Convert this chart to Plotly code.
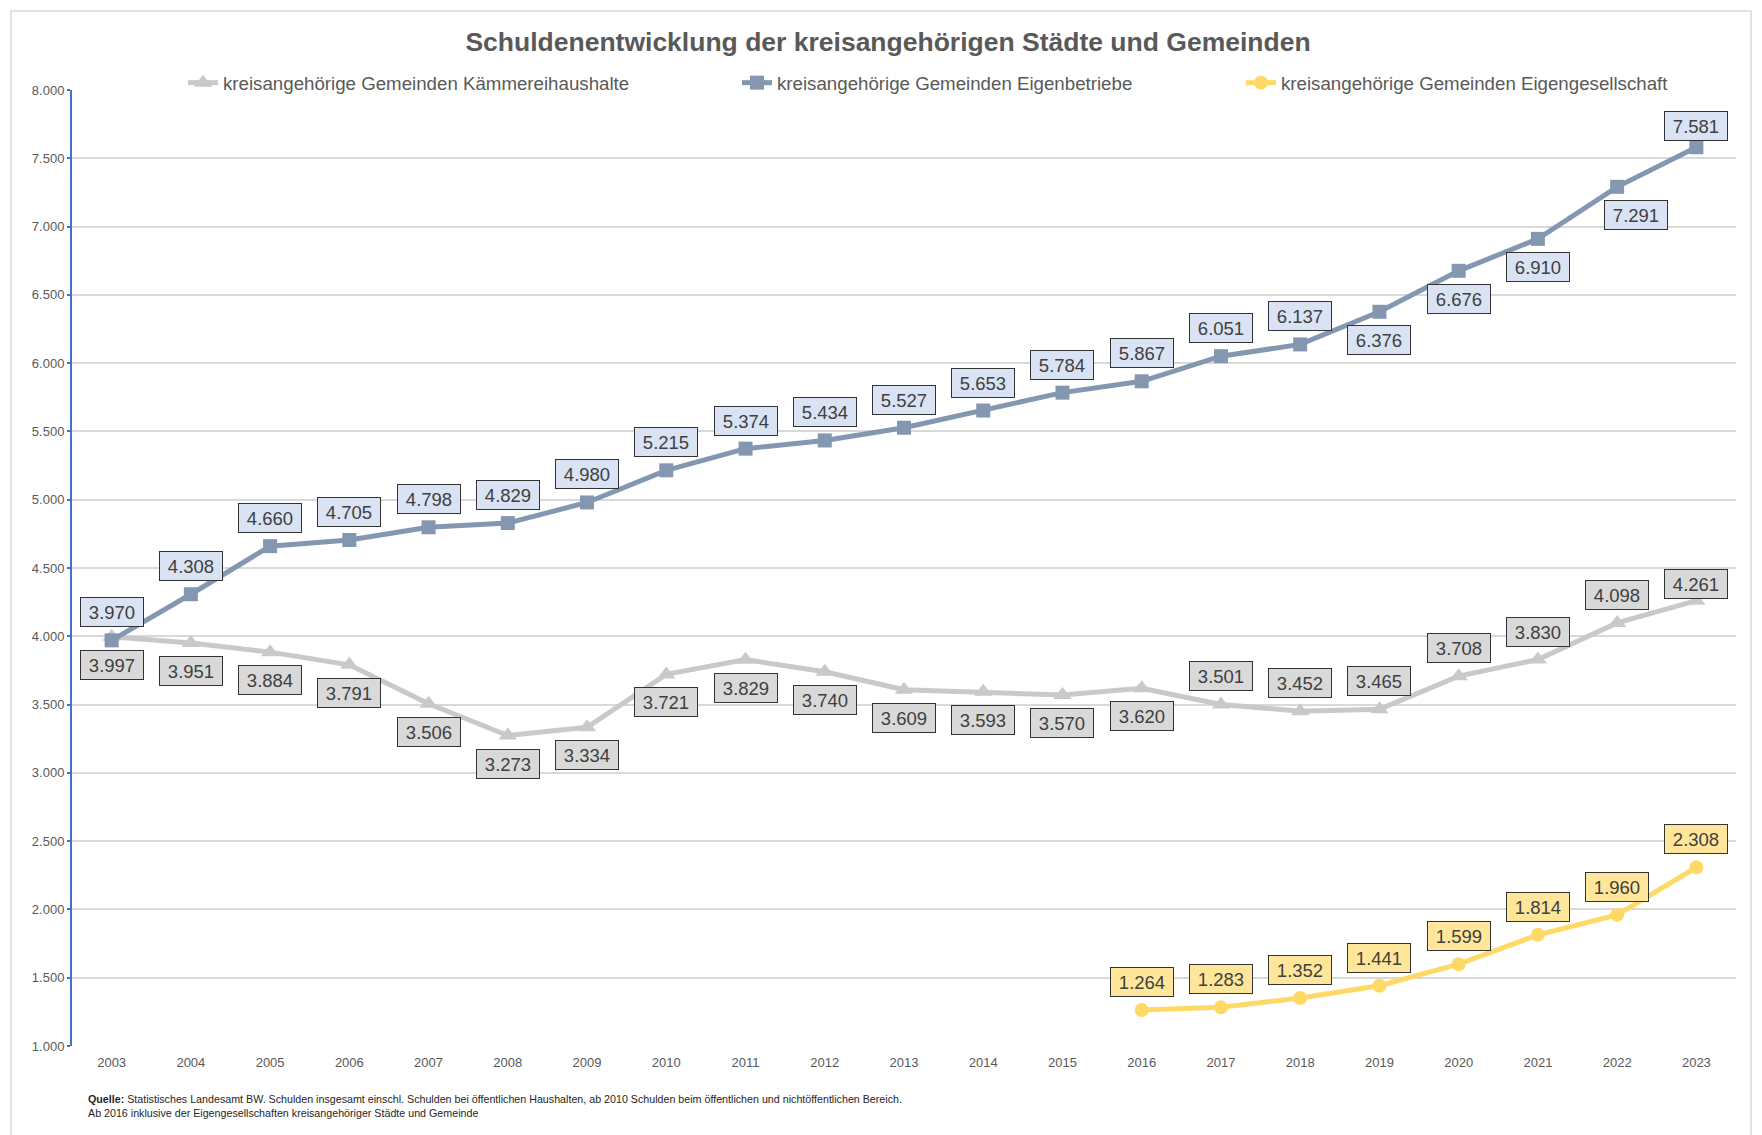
import plotly.graph_objects as go

# ---------------- data ----------------
years = [str(y) for y in range(2003, 2024)]
kaemmerei = [3997, 3951, 3884, 3791, 3506, 3273, 3334, 3721, 3829, 3740, 3609,
             3593, 3570, 3620, 3501, 3452, 3465, 3708, 3830, 4098, 4261]
eigenbetriebe = [3970, 4308, 4660, 4705, 4798, 4829, 4980, 5215, 5374, 5434, 5527,
                 5653, 5784, 5867, 6051, 6137, 6376, 6676, 6910, 7291, 7581]
years_eg = [str(y) for y in range(2016, 2024)]
eigengesellschaft = [1264, 1283, 1352, 1441, 1599, 1814, 1960, 2308]

y_ticks = list(range(1000, 8001, 500))

names = ["kreisangehörige Gemeinden Kämmereihaushalte",
         "kreisangehörige Gemeinden Eigenbetriebe",
         "kreisangehörige Gemeinden Eigengesellschaft"]

# ---------------- label placement (style) ----------------
# +1 = label above point, -1 = label below
pos_kaem = [-1] * 14 + [1] * 7
pos_eigb = [1] * 16 + [-1] * 4 + [1]
pos_eigg = [1] * 8
OFF = 28
shift_over = {("b", 20): (0, 21), ("g", 20): (0, 17), ("b", 19): (19, None)}

def de(v):
    return f"{v:,}".replace(",", ".")

C_GREY = "#C9C9C9"
C_BLUE = "#8497B0"
C_YEL = "#FFD966"
TXT = "#595959"
FONT = "Liberation Sans, Arial"

fig = go.Figure()
fig.add_trace(go.Scatter(x=years, y=kaemmerei, name=names[0], mode="lines+markers",
                         line=dict(color=C_GREY, width=5),
                         marker=dict(symbol="triangle-up", size=16, color=C_GREY),
                         legend="legend"))
fig.add_trace(go.Scatter(x=years, y=eigenbetriebe, name=names[1], mode="lines+markers",
                         line=dict(color=C_BLUE, width=5),
                         marker=dict(symbol="square", size=14, color=C_BLUE),
                         legend="legend2"))
fig.add_trace(go.Scatter(x=years_eg, y=eigengesellschaft, name=names[2], mode="lines+markers",
                         line=dict(color=C_YEL, width=5),
                         marker=dict(symbol="circle", size=14, color=C_YEL),
                         legend="legend3"))

annos = []
def add_labels(xs, ys, poss, fill, key):
    for i, (x, y, p) in enumerate(zip(xs, ys, poss)):
        xs_, ys_ = 0, p * OFF
        if (key, i) in shift_over:
            ox, oy = shift_over[(key, i)]
            xs_ = ox
            if oy is not None:
                ys_ = p * oy
        annos.append(dict(x=years.index(x), y=y, xref="x", yref="y", text=de(y), showarrow=False,
                          xshift=xs_, yshift=ys_, bgcolor=fill, bordercolor="#333333",
                          borderwidth=1, borderpad=1, width=60, height=26,
                          font=dict(family=FONT, size=18.5, color="#404040")))

add_labels(years, kaemmerei, pos_kaem, "#D9D9D9", "g")
add_labels(years, eigenbetriebe, pos_eigb, "#DAE3F3", "b")
add_labels(years_eg, eigengesellschaft, pos_eigg, "#FFE699", "y")

annos.append(dict(x=0.0084, y=-0.047, xref="paper", yref="paper", xanchor="left", yanchor="top",
                  align="left", showarrow=False,
                  text="<b>Quelle:</b> Statistisches Landesamt BW. Schulden insgesamt einschl. Schulden bei öffentlichen Haushalten, ab 2010 Schulden beim öffentlichen und nichtöffentlichen Bereich.<br>Ab 2016 inklusive der Eigengesellschaften kreisangehöriger Städte und Gemeinde",
                  font=dict(family=FONT, size=10.7, color="#262626")))

W, H = 1762, 1135
L, R, T, B = 72, 26, 90, 89
pw, ph = W - L - R, H - T - B

def px2paper_x(px):
    return (px - L) / pw

def px2paper_y(py):
    return (H - B - py) / ph

legend_common = dict(orientation="h", yanchor="middle", xanchor="left",
                     font=dict(family=FONT, size=18.7, color=TXT),
                     bgcolor="rgba(0,0,0,0)", borderwidth=0, itemwidth=30)

fig.update_layout(
    width=W, height=H,
    margin=dict(l=L, r=R, t=T, b=B),
    paper_bgcolor="white", plot_bgcolor="white",
    showlegend=True,
    title=dict(text="<b>Schuldenentwicklung der kreisangehörigen Städte und Gemeinden</b>",
               x=888 / W, xanchor="center", y=1 - 42 / H, yanchor="middle",
               font=dict(family=FONT, size=26.5, color=TXT)),
    legend=dict(x=px2paper_x(183), y=px2paper_y(83), **legend_common),
    legend2=dict(x=px2paper_x(737), y=px2paper_y(83), **legend_common),
    legend3=dict(x=px2paper_x(1241), y=px2paper_y(83), **legend_common),
    xaxis=dict(type="category", categoryorder="array", categoryarray=years,
               range=[-0.5, len(years) - 0.5], showgrid=False, showline=False,
               ticks="", zeroline=False, ticklabelstandoff=7,
               tickfont=dict(family=FONT, size=13, color=TXT)),
    yaxis=dict(range=[1000, 8000], tickvals=y_ticks, ticktext=[de(v) for v in y_ticks],
               showgrid=True, gridcolor="#D9D9D9", gridwidth=1.5,
               showline=True, linecolor="#4472C4", linewidth=2,
               ticks="outside", ticklen=3, tickcolor="#4472C4", tickwidth=1.5,
               zeroline=False,
               tickfont=dict(family=FONT, size=13, color=TXT)),
    annotations=annos,
    shapes=[dict(type="rect", xref="paper", yref="paper",
                 x0=px2paper_x(11), x1=px2paper_x(1751),
                 y0=px2paper_y(1145), y1=px2paper_y(11),
                 line=dict(color="#D9D9D9", width=1.5), layer="below")],
)

fig.write_html("out.html", config={"displayModeBar": False},
               post_script="document.body.style.margin='0';")
